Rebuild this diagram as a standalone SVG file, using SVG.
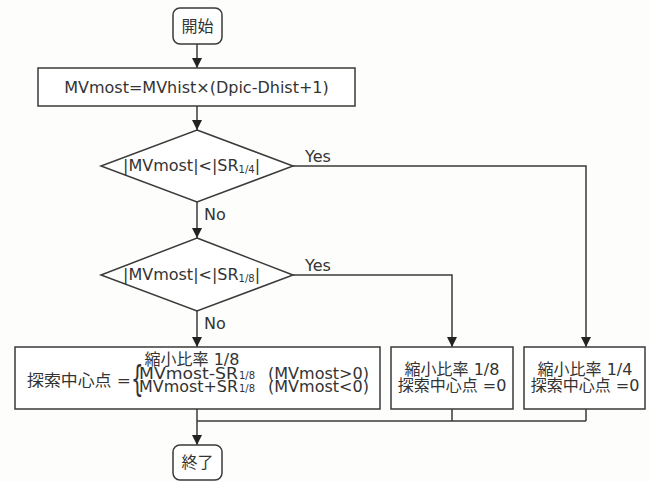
<svg xmlns="http://www.w3.org/2000/svg" width="649" height="482" viewBox="0 0 649 482">
<style>
.s{fill:#fff;stroke:#3a3a3a;stroke-width:1.5}
.c{fill:none;stroke:#3a3a3a;stroke-width:1.5}
text{font-family:"DejaVu Sans","Noto Sans CJK JP",sans-serif;fill:#333;font-size:16px}
.m{text-anchor:middle}
text.sub,tspan.sub{font-size:10px}
text.t{font-size:15px}
text.br{font-size:36px}
</style>
<defs>
<marker id="a" viewBox="0 0 10 10" refX="10" refY="5" markerWidth="10" markerHeight="10" markerUnits="userSpaceOnUse" orient="auto">
<path d="M0,0L10,5L0,10z" fill="#222"/>
</marker>
</defs>
<rect width="649" height="482" fill="#fdfdfb"/>
<g id="connectors">
<path class="c" d="M197,44V68" marker-end="url(#a)"/>
<path class="c" d="M197,106V130" marker-end="url(#a)"/>
<path class="c" d="M197,202V238" marker-end="url(#a)"/>
<path class="c" d="M293,166H586V347" marker-end="url(#a)"/>
<path class="c" d="M293,275H452V347" marker-end="url(#a)"/>
<path class="c" d="M197,311V347" marker-end="url(#a)"/>
<path class="c" d="M197,409V445" marker-end="url(#a)"/>
<path class="c" d="M452,409V421M586,409V421M197,421H586"/>
<text x="305" y="162">Yes</text>
<text x="204" y="220">No</text>
<text x="305" y="271">Yes</text>
<text x="204" y="329">No</text>
</g>
<g id="start">
<rect class="s" x="173" y="8" width="49" height="36" rx="7"/>
<text class="m" x="197.5" y="32">開始</text>
</g>
<g id="calc">
<rect class="s" x="38" y="68" width="317" height="38"/>
<text class="m" x="196.5" y="93">MVmost=MVhist×(Dpic-Dhist+1)</text>
</g>
<g id="dec1">
<path class="s" d="M197,130L293,166L197,202L101,166z"/>
<text x="123" y="171">|MVmost|&lt;|SR<tspan class="sub" dy="2">1/4</tspan><tspan dy="-2">|</tspan></text>
</g>
<g id="dec2">
<path class="s" d="M197,238L293,275L197,311L101,275z"/>
<text x="123" y="280">|MVmost|&lt;|SR<tspan class="sub" dy="2">1/8</tspan><tspan dy="-2">|</tspan></text>
</g>
<g id="box18calc">
<rect class="s" x="15" y="347" width="365" height="62"/>
<text class="m" x="192" y="365">縮小比率 1/8</text>
<text x="27" y="386" textLength="104" lengthAdjust="spacingAndGlyphs">探索中心点 =</text>
<text class="br" x="0" y="0" transform="translate(131 391) scale(0.55 1)">{</text>
<text class="t" x="139" y="379" textLength="99" lengthAdjust="spacingAndGlyphs">MVmost-SR</text>
<text class="sub" x="239" y="379">1/8</text>
<text class="t" x="139" y="392" textLength="99" lengthAdjust="spacingAndGlyphs">MVmost+SR</text>
<text class="sub" x="239" y="392">1/8</text>
<text class="t" x="268" y="379" textLength="101" lengthAdjust="spacingAndGlyphs">(MVmost&gt;0)</text>
<text class="t" x="268" y="392" textLength="101" lengthAdjust="spacingAndGlyphs">(MVmost&lt;0)</text>
</g>
<g id="box18">
<rect class="s" x="391" y="347" width="122" height="62"/>
<text class="m" x="452" y="375">縮小比率 1/8</text>
<text class="m" x="452" y="391">探索中心点 =0</text>
</g>
<g id="box14">
<rect class="s" x="524" y="347" width="121" height="62"/>
<text class="m" x="585" y="375">縮小比率 1/4</text>
<text class="m" x="585" y="391">探索中心点 =0</text>
</g>
<g id="end">
<rect class="s" x="173" y="445" width="49" height="35" rx="7"/>
<text class="m" x="197.5" y="468">終了</text>
</g>
</svg>
